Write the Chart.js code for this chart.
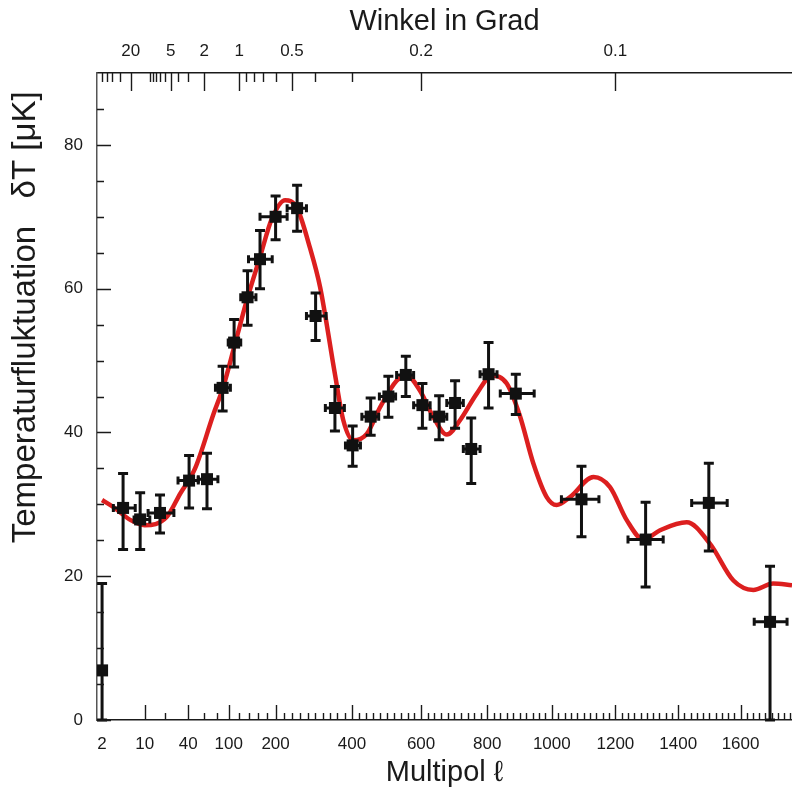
<!DOCTYPE html>
<html>
<head>
<meta charset="utf-8">
<script src="https://cdn.jsdelivr.net/npm/chart.js@4.4.0/dist/chart.umd.min.js"></script>
<style>
  html, body { margin: 0; background: #fff; }
</style>
</head>
<body>
<canvas id="cmb" width="792" height="787"></canvas>
<script>
// binned measurements: multipole, bin edges, temperature, error range
const ell    = [2, 4.5, 8.5, 17, 41, 64, 89, 110, 137, 164, 200, 253, 301, 353, 402, 453, 504, 555, 604, 654, 702, 751, 804, 888, 1093, 1296, 1498, 1695];
const ellLo  = [2, 3.1, 6.8, 11.3, 30, 52, 77, 99, 123, 139, 164, 228, 277, 327, 382, 428, 478, 528, 578, 627, 677, 727, 778, 840, 1030, 1240, 1443, 1644];
const ellHi  = [2, 7.1, 12, 26.5, 52, 81, 103, 123, 155, 192, 228, 277, 329, 379, 424, 476, 525, 578, 627, 677, 727, 778, 830, 945, 1148, 1352, 1557, 1750];
const temp   = [6.9, 29.5, 27.9, 28.8, 33.3, 33.5, 46.2, 52.5, 58.8, 64.1, 70.0, 71.2, 56.2, 43.4, 38.2, 42.2, 45.0, 48.0, 43.8, 42.2, 44.1, 37.7, 48.1, 45.4, 30.7, 25.1, 30.2, 13.65];
const tempLo = [0, 23.7, 23.7, 26.0, 29.5, 29.4, 43.0, 49.1, 54.9, 60.0, 66.8, 68.0, 52.8, 40.2, 35.3, 39.6, 42.1, 45.0, 40.6, 39.0, 40.6, 32.9, 43.4, 42.5, 25.5, 18.5, 23.5, 0];
const tempHi = [19.0, 34.3, 31.6, 31.3, 36.8, 37.1, 49.2, 55.7, 62.5, 68.1, 72.9, 74.4, 59.4, 46.4, 40.9, 44.8, 47.8, 50.6, 46.8, 45.1, 47.2, 42.0, 52.5, 48.1, 35.3, 30.3, 35.7, 21.4];

// model curve
const curveL = [2, 3, 6, 10, 21, 32, 48, 74, 90, 111, 135, 164, 191, 223, 252, 286, 313, 353, 376, 404, 442, 480, 528, 558, 597, 637, 677, 717, 768, 814, 860, 900, 943, 984, 1015, 1057, 1131, 1183, 1236, 1289, 1342, 1427, 1502, 1577, 1641, 1705, 1766];
const curveT = [30.6, 29.7, 27.8, 27.1, 28.2, 31.5, 35.0, 42.6, 46.3, 52.1, 58.3, 64.4, 69.7, 72.3, 71.3, 65.7, 60.2, 48.1, 41.7, 38.9, 39.8, 43.5, 47.2, 47.9, 45.8, 42.1, 39.7, 41.7, 45.4, 47.9, 46.8, 42.4, 35.6, 31.0, 29.9, 31.0, 33.8, 32.4, 27.8, 25.1, 26.4, 27.5, 24.5, 19.4, 18.1, 19.0, 18.75];

// axis ticks
const ellTicks = [2, 10, 40, 100, 200, 400, 600, 800, 1000, 1200, 1400, 1600];
const ellMinor = [20, 60, 80];
const angleTicks = [20, 5, 2, 1, 0.5, 0.2, 0.1];
const angleMinor = [60, 50, 40, 30, 10, 9, 8, 7, 6, 4, 3, 0.9, 0.8, 0.7, 0.6, 0.4, 0.3];
const tempTicks = [0, 20, 40, 60, 80];

const ANGLE_K = 120;            // angle in degrees ~ ANGLE_K / ell
const ELL_MIN = 1.64, ELL_MAX = 1766;

for (let l = 120; l < 1780; l += 20) {
  if (!ellTicks.includes(l)) ellMinor.push(l);
}

// the figure's x axis is log-like at small ell and linear at large ell
const warp = (l) => 0.295 * l + 25 * Math.log(l);
function unwarp(u) {
  let l = Math.max(1, u / 0.295);
  for (let i = 0; i < 40; i++) {
    l -= (warp(l) - u) / (0.295 + 25 / l);
    if (l < 0.5) l = 0.5;
  }
  return l;
}

class MultipolScale extends Chart.LinearScale {
  static id = 'multipol';
  static defaults = Chart.LinearScale.defaults;
  getPixelForValue(v) {
    const a = warp(this.min), b = warp(this.max);
    return this.getPixelForDecimal((warp(v) - a) / (b - a));
  }
  getValueForPixel(p) {
    const a = warp(this.min), b = warp(this.max);
    return unwarp(a + this.getDecimalForPixel(p) * (b - a));
  }
}
Chart.register(MultipolScale);

const FONT = "'Liberation Sans', Arial, Helvetica, sans-serif";
const INK = '#1a1a1a';

const errorBars = {
  id: 'errorBars',
  afterDatasetDraw(chart, args) {
    if (args.index !== 1) return;
    const { ctx, chartArea, scales: { x, y } } = chart;
    ctx.save();
    ctx.beginPath();
    ctx.rect(chartArea.left, chartArea.top - 2, chartArea.right - chartArea.left, chartArea.bottom - chartArea.top + 4);
    ctx.clip();
    ctx.strokeStyle = '#111';
    ctx.lineWidth = 3;
    ell.forEach((l, i) => {
      const px = x.getPixelForValue(l);
      const py = y.getPixelForValue(temp[i]);
      const y0 = y.getPixelForValue(tempLo[i]);
      const y1 = y.getPixelForValue(tempHi[i]);
      ctx.beginPath();
      ctx.moveTo(px, y0); ctx.lineTo(px, y1);
      ctx.moveTo(px - 5, y0); ctx.lineTo(px + 5, y0);
      ctx.moveTo(px - 5, y1); ctx.lineTo(px + 5, y1);
      if (ellHi[i] > ellLo[i]) {
        const x0 = x.getPixelForValue(ellLo[i]);
        const x1 = x.getPixelForValue(ellHi[i]);
        ctx.moveTo(x0, py); ctx.lineTo(x1, py);
        ctx.moveTo(x0, py - 4); ctx.lineTo(x0, py + 4);
        ctx.moveTo(x1, py - 4); ctx.lineTo(x1, py + 4);
      }
      ctx.stroke();
    });
    ctx.restore();
  }
};

// inward tick marks, major and minor
const innerTicks = {
  id: 'innerTicks',
  afterDraw(chart) {
    const { ctx, chartArea, scales: { x, x2, y } } = chart;
    ctx.save();
    ctx.strokeStyle = INK;
    ctx.lineWidth = 1.4;
    ctx.beginPath();
    const bottom = chartArea.bottom, top = chartArea.top, left = chartArea.left;
    ellTicks.slice(1).forEach((l) => {
      const p = Math.round(x.getPixelForValue(l)) + 0.5;
      ctx.moveTo(p, bottom); ctx.lineTo(p, bottom - 15);
    });
    ellMinor.forEach((l) => {
      const p = Math.round(x.getPixelForValue(l)) + 0.5;
      ctx.moveTo(p, bottom); ctx.lineTo(p, bottom - 7);
    });
    angleTicks.forEach((a) => {
      const p = Math.round(x2.getPixelForValue(ANGLE_K / a)) + 0.5;
      ctx.moveTo(p, top); ctx.lineTo(p, top + 18);
    });
    angleMinor.forEach((a) => {
      const p = Math.round(x2.getPixelForValue(ANGLE_K / a)) + 0.5;
      ctx.moveTo(p, top); ctx.lineTo(p, top + 9);
    });
    for (let t = 0; t <= 85; t += 5) {
      const p = Math.round(y.getPixelForValue(t)) + 0.5;
      ctx.moveTo(left, p); ctx.lineTo(left + (t % 20 === 0 ? 14 : 7), p);
    }
    ctx.stroke();
    ctx.restore();
  }
};

function fixHeight(h) {
  return (s) => { s.height = h; s.paddingLeft = 0; s.paddingRight = 0; };
}

new Chart(document.getElementById('cmb'), {
  data: {
    datasets: [
      {
        type: 'scatter',
        data: ell.map((l, i) => ({ x: l, y: temp[i] })),
        pointStyle: 'rect',
        pointRadius: 8.5,
        backgroundColor: '#111',
        borderWidth: 0,
        order: 0,
      },
      {
        type: 'line',
        data: curveL.map((l, i) => ({ x: l, y: curveT[i] })),
        borderColor: '#dc1f1f',
        borderWidth: 4.5,
        pointRadius: 0,
        cubicInterpolationMode: 'monotone',
        fill: false,
        order: 1,
      },
    ],
  },
  options: {
    responsive: false,
    animation: false,
    layout: { padding: 0, autoPadding: false },
    plugins: { legend: { display: false }, tooltip: { enabled: false } },
    scales: {
      x: {
        type: 'multipol',
        position: 'bottom',
        min: ELL_MIN,
        max: ELL_MAX,
        afterBuildTicks: (s) => { s.ticks = ellTicks.map((v) => ({ value: v })); },
        afterFit: fixHeight(67),
        grid: { display: false, drawTicks: false },
        border: { display: true, color: INK, width: 1.5 },
        ticks: {
          autoSkip: false, maxRotation: 0, padding: 14, color: INK,
          font: { family: FONT, size: 17 },
          callback: (v) => String(v),
        },
        title: {
          display: true, text: 'Multipol ℓ', color: INK,
          font: { family: FONT, size: 29, lineHeight: 1 }, padding: { bottom: 0 },
        },
      },
      x2: {
        type: 'multipol',
        position: 'top',
        min: ELL_MIN,
        max: ELL_MAX,
        afterBuildTicks: (s) => { s.ticks = angleTicks.map((a) => ({ value: ANGLE_K / a })); },
        afterFit: fixHeight(73),
        grid: { display: false, drawTicks: false },
        border: { display: true, color: INK, width: 1.5 },
        ticks: {
          autoSkip: false, maxRotation: 0, padding: 11, color: INK,
          font: { family: FONT, size: 17 },
          callback: (v, i) => String(angleTicks[i]),
        },
        title: {
          display: true, text: 'Winkel in Grad', color: INK,
          font: { family: FONT, size: 29, lineHeight: 1 }, padding: { top: 7 },
        },
      },
      y: {
        type: 'linear',
        min: 0,
        max: 90,
        afterBuildTicks: (s) => { s.ticks = tempTicks.map((v) => ({ value: v })); },
        afterFit: (s) => { s.width = 97; },
        grid: { display: false, drawTicks: false },
        border: { display: true, color: '#555', width: 1.5 },
        ticks: {
          padding: 14, color: INK,
          font: { family: FONT, size: 17 },
        },
        title: {
          display: true, align: 'end', text: 'Temperaturfluktuation   δT [μK]  ', color: INK,
          font: { family: FONT, size: 33, lineHeight: 1 }, padding: { top: 9 },
        },
      },
    },
  },
  plugins: [errorBars, innerTicks],
});
</script>
</body>
</html>
